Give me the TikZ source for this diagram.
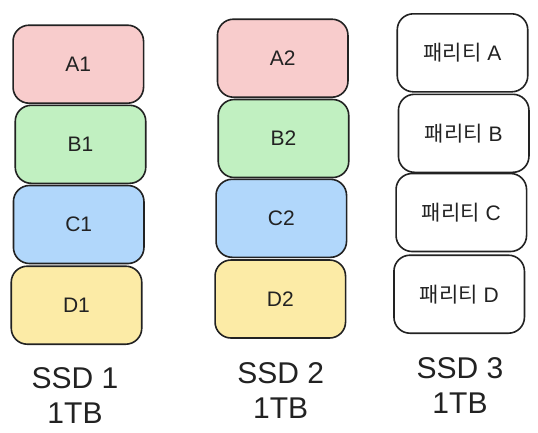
\documentclass[tikz,border=0pt]{standalone}
\usepackage{fontspec}
\setmainfont{Liberation Sans}
\newfontfamily\kofont{Noto Sans CJK KR}

\definecolor{redfill}{HTML}{F8CCCC}
\definecolor{greenfill}{HTML}{C1F0C1}
\definecolor{bluefill}{HTML}{B1D7FB}
\definecolor{yellowfill}{HTML}{FCEBA6}
\definecolor{edge}{HTML}{222222}

\begin{document}
\begin{tikzpicture}[x=1pt, y=-1pt,
	part/.style={draw=edge, line width=1.6pt, rounded corners=16pt, minimum width=130.5pt, minimum height=78pt, inner sep=0pt, text=edge, font=\fontsize{21}{25}\selectfont},
	disk/.style={align=center, inner sep=0pt, text=edge, font=\fontsize{30}{35}\selectfont}]
	
	\useasboundingbox (0,0) rectangle (538,432);
	
	\node[part, fill=redfill] (a1) at (78.3,64.2) {A1};
	\node[part, fill=greenfill] (b1) at (80.5,144.3) {B1};
	\node[part, fill=bluefill] (c1) at (78.7,224.5) {C1};
	\node[part, fill=yellowfill] (d1) at (76.5,305.2) {D1};
	
	\node[part, fill=redfill] (a2) at (282.7,58.2) {A2};
	\node[part, fill=greenfill] (b2) at (283.5,138.5) {B2};
	\node[part, fill=bluefill] (c2) at (281.3,218.3) {C2};
	\node[part, fill=yellowfill] (d2) at (280.3,299) {D2};
	
	\node[part, fill=white] (pa) at (462.5,52.8) {{\kofont 패리티} A};
	\node[part, fill=white] (pb) at (463.7,133.3) {{\kofont 패리티} B};
	\node[part, fill=white] (pc) at (461.3,212.5) {{\kofont 패리티} C};
	\node[part, fill=white] (pd) at (459.2,294.2) {{\kofont 패리티} D};
	
	
	\node[disk] (ssd1) at (75,395.5) {SSD 1\\1TB};
	\node[disk] (ssd2) at (280.7,390.5) {SSD 2\\1TB};
	\node[disk] (ssd3) at (460,386) {SSD 3\\1TB};
	
\end{tikzpicture}
\end{document}
